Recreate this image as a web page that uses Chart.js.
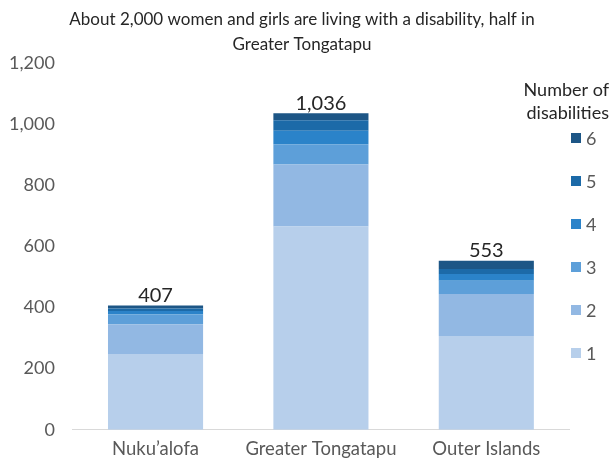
<!DOCTYPE html>
<html>
<head>
<meta charset="utf-8">
<script src="https://cdn.jsdelivr.net/npm/chart.js@4/dist/chart.umd.min.js"></script>
<style>
  body { margin: 0; background: #fff; }
  #wrap { width: 613px; height: 458px; }
</style>
</head>
<body>
<div id="wrap"><canvas id="disabilityChart"></canvas></div>
<script>
const regions = ['Nuku\u2019alofa', 'Greater Tongatapu', 'Outer Islands'];

// women and girls by number of disabilities
const one   = [248, 665, 307];
const two   = [97, 203, 137];
const three = [32, 66, 44];
const four  = [12, 44, 22];
const five  = [8, 35, 16];
const six   = [10, 23, 27];

const yTicks = [0, 200, 400, 600, 800, 1000, 1200];

const seriesNames = ['1', '2', '3', '4', '5', '6'];
const seriesData = [one, two, three, four, five, six];
const colors = ['#b7cfeb', '#92b8e3', '#5d9fd9', '#2b83c9', '#1c6aa8', '#1d5686'];

const titleLines = ['About 2,000 women and girls are living with a disability, half in', 'Greater Tongatapu'];

const totals = regions.map((_, i) => seriesData.reduce((s, d) => s + d[i], 0));

const font = 'Lato, "Open Sans", sans-serif';

// title centred over the whole canvas, not just the plot box
const canvasTitle = {
  id: 'canvasTitle',
  afterDraw(chart) {
    const { ctx } = chart;
    ctx.save();
    ctx.font = '17px ' + font;
    ctx.fillStyle = '#262626';
    ctx.textAlign = 'center';
    ctx.textBaseline = 'middle';
    titleLines.forEach((line, i) => ctx.fillText(line, 302, 20 + i * 25));
    ctx.restore();
  }
};

// totals above each stack
const totalLabels = {
  id: 'totalLabels',
  afterDatasetsDraw(chart) {
    const { ctx } = chart;
    const top = chart.getDatasetMeta(seriesData.length - 1);
    ctx.save();
    ctx.font = '20px ' + font;
    ctx.fillStyle = '#262626';
    ctx.textAlign = 'center';
    ctx.textBaseline = 'bottom';
    top.data.forEach((bar, i) => {
      ctx.fillText(totals[i].toLocaleString('en-US'), bar.x, bar.y);
    });
    ctx.restore();
  }
};

// legend on the right, 6 at the top down to 1
const sideLegend = {
  id: 'sideLegend',
  afterDraw(chart) {
    const { ctx } = chart;
    ctx.save();
    ctx.font = '18px ' + font;
    ctx.fillStyle = '#262626';
    ctx.textAlign = 'right';
    ctx.textBaseline = 'middle';
    ctx.fillText('Number of', 609, 90);
    ctx.fillText('disabilities', 609, 113);
    ctx.textAlign = 'left';
    for (let k = seriesNames.length - 1; k >= 0; k--) {
      const y = 138 + (seriesNames.length - 1 - k) * 43;
      ctx.fillStyle = colors[k];
      ctx.fillRect(571, y - 5, 10, 10);
      ctx.fillStyle = '#595959';
      ctx.fillText(seriesNames[k], 586, y + 1);
    }
    ctx.restore();
  }
};

new Chart(document.getElementById('disabilityChart'), {
  type: 'bar',
  data: {
    labels: regions,
    datasets: seriesData.map((d, k) => ({
      label: seriesNames[k],
      data: d,
      backgroundColor: colors[k],
      borderWidth: 0,
      categoryPercentage: 1,
      barPercentage: 0.575
    }))
  },
  options: {
    responsive: true,
    maintainAspectRatio: false,
    animation: false,
    layout: { padding: { left: -1, right: 44, top: 63, bottom: -2 } },
    scales: {
      x: {
        stacked: true,
        grid: { display: false },
        border: { color: '#d9d9d9', width: 1 },
        ticks: { color: '#595959', font: { family: font, size: 18.5 }, padding: 0 }
      },
      y: {
        stacked: true,
        min: 0,
        max: 1200,
        grid: { display: false },
        border: { display: false },
        afterBuildTicks(axis) {
          axis.ticks = yTicks.map(v => ({ value: v }));
        },
        ticks: {
          color: '#595959',
          font: { family: font, size: 18 },
          padding: 10,
          callback: v => v.toLocaleString('en-US')
        }
      }
    },
    plugins: {
      legend: { display: false },
      tooltip: { enabled: false },
      title: { display: false }
    }
  },
  plugins: [canvasTitle, totalLabels, sideLegend]
});
</script>
</body>
</html>
